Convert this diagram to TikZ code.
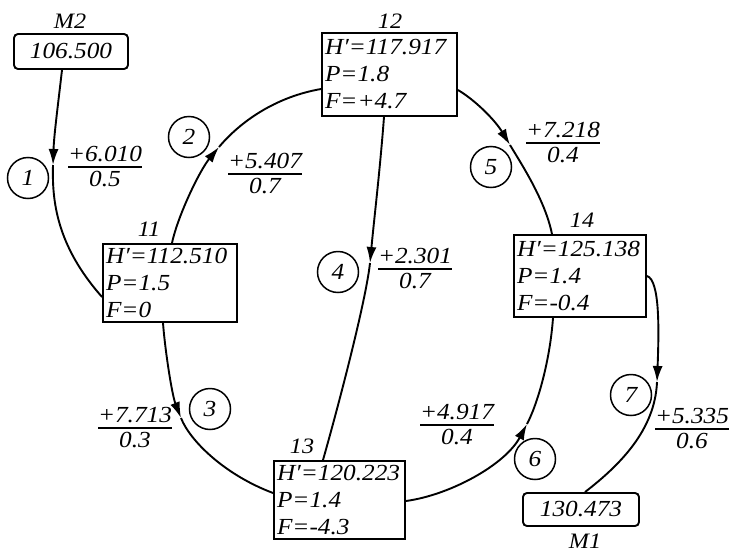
\documentclass[tikz,border=0pt]{standalone}
\usepackage{fontspec}
\setmainfont{Liberation Serif}[FakeStretch=1.1]
\usetikzlibrary{arrows.meta,calc}
\setlength{\arrayrulewidth}{1.6pt}
\newcommand\frc[2]{\begin{tabular}{@{}c@{}}#1\\[-3pt]\hline #2\end{tabular}}
\begin{document}
\begin{tikzpicture}[x=1pt,y=-1pt,
  every node/.style={font=\fontsize{23}{27}\selectfont\itshape},
  box/.style={draw, line width=1.9pt, inner xsep=3pt, inner ysep=0pt, align=left},
  rbox/.style={draw, line width=1.9pt, rounded corners=4pt, inner sep=0pt},
  num/.style={draw, circle, line width=1.5pt, minimum size=41pt, inner sep=0pt},
  lbl/.style={font=\fontsize{22}{24}\selectfont\itshape, inner sep=0pt},
  conn/.style={line width=1.9pt},
  arr/.style={conn, -{Latex[length=16pt,width=10pt]}},
  frac/.style={inner sep=0pt}]
\useasboundingbox (0,0) rectangle (729,552);

% boxes
\node[box, text width=129pt, minimum height=83pt] (n12) at (389.5,74.5) {H′=117.917\\P=1.8\\F=+4.7};
\node[box, text width=128pt, minimum height=78pt] (n11) at (170,283) {H′=112.510\\P=1.5\\F=0};
\node[box, text width=126pt, minimum height=82pt] (n14) at (580,276) {H′=125.138\\P=1.4\\F=-0.4};
\node[box, text width=125pt, minimum height=78pt] (n13) at (339.5,500) {H′=120.223\\P=1.4\\F=-4.3};
\node[rbox, minimum width=114pt, minimum height=35pt] (m2) at (71,51.5) {106.500};
\node[rbox, minimum width=116pt, minimum height=33pt] (m1) at (581,509.5) {130.473};

% box labels
\node[lbl] (l12) at (390,21) {12};
\node[lbl] (l11) at (149,229) {11};
\node[lbl] (l14) at (582,220) {14};
\node[lbl] (l13) at (302,446) {13};
\node[lbl] (lm2) at (70,21) {M2};
\node[lbl] (lm1) at (585,541) {M1};

% circled numbers
\node[num] (c1) at (28,178) {1};
\node[num] (c2) at (189,137) {2};
\node[num] (c3) at (210,409) {3};
\node[num] (c4) at (338,272) {4};
\node[num] (c5) at (491,167) {5};
\node[num] (c6) at (535,459) {6};
\node[num] (c7) at (631,395) {7};

% fractions
\node[frac] (f1) at (105,168.5) {\frc{+6.010}{0.5}};
\node[frac] (f2) at (265,175.5) {\frc{+5.407}{0.7}};
\node[frac] (f3) at (135,429.5) {\frc{+7.713}{0.3}};
\node[frac] (f4) at (415,270.5) {\frc{+2.301}{0.7}};
\node[frac] (f5) at (563,144.5) {\frc{+7.218}{0.4}};
\node[frac] (f6) at (457,426.5) {\frc{+4.917}{0.4}};
\node[frac] (f7) at (692,430.5) {\frc{+5.335}{0.6}};

% arrow tip points
\coordinate (t1) at (53,165);
\coordinate (t2) at (219,147);
\coordinate (t3) at (181,418);
\coordinate (t4) at (370,263);
\coordinate (t5) at (510,145);
\coordinate (t6) at (527,424);
\coordinate (t7) at (657,382);

% connector 1
\draw[arr] ([xshift=-9pt]m2.south) .. controls (58,105) and (54,135) .. (t1);
\draw[conn] (t1) .. controls (52,200) and (56,245) .. ([yshift=-14pt]n11.west);
% connector 2
\draw[arr] ([xshift=2pt]n11.north) .. controls (178,215) and (200,170) .. (t2);
\draw[conn] (t2) .. controls (240,122) and (275,97) .. ([yshift=-14.5pt]n12.west);
% connector 3
\draw[arr] ([xshift=-7pt]n11.south) .. controls (165,350) and (172,395) .. (t3);
\draw[conn] (t3) .. controls (190,441) and (225,475) .. ([yshift=7pt]n13.west);
% connector 4
\draw[arr] ([xshift=-5.5pt]n12.south) .. controls (380,170) and (374,220) .. (t4);
\draw[conn] (t4) .. controls (366,300) and (340,400) .. ([xshift=-16.5pt]n13.north);
% connector 5
\draw[arr] ([yshift=-15.5pt]n12.east) .. controls (475,100) and (495,120) .. (t5);
\draw[conn] (t5) .. controls (522,165) and (545,200) .. ([xshift=-28pt]n14.north);
% connector 6
\draw[arr] ([yshift=-1pt]n13.east) .. controls (450,495) and (505,465) .. (t6);
\draw[conn] (t6) .. controls (538,403) and (550,360) .. ([xshift=-27pt]n14.south);
% connector 7
\draw[arr] (n14.east) .. controls (660,280) and (659,330) .. (t7);
\draw[conn] (t7) .. controls (655,430) and (620,465) .. ([xshift=4pt]m1.north);
\end{tikzpicture}
\end{document}
